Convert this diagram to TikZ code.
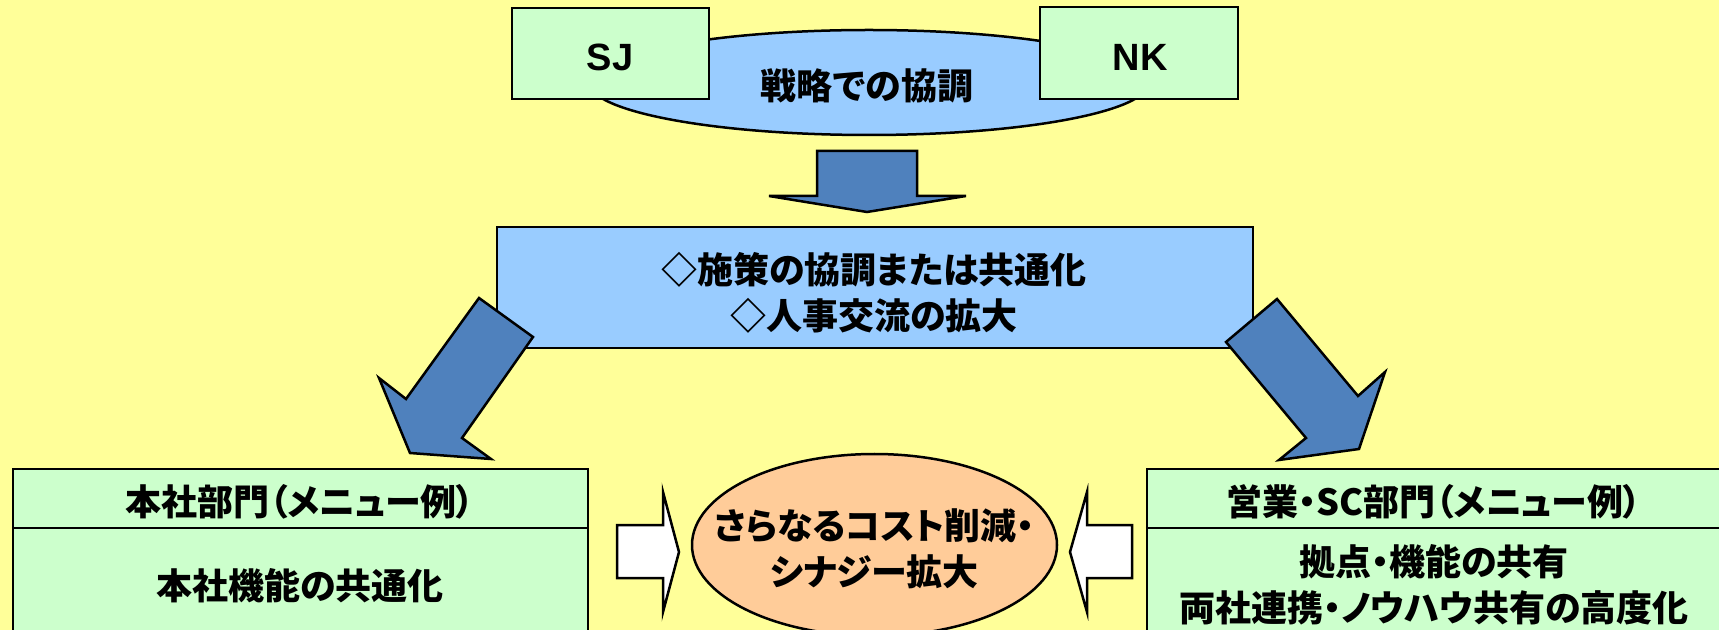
\documentclass[tikz,border=0pt]{standalone}
\usepackage{fontspec}
\setmainfont{Liberation Sans}
\newfontfamily\jp{Noto Sans CJK JP}[RawFeature=+palt]
\usetikzlibrary{shapes.geometric}
\definecolor{bgyellow}{HTML}{FFFF99}
\definecolor{boxgreen}{HTML}{CCFFCC}
\definecolor{boxblue}{HTML}{99CCFF}
\definecolor{arrowblue}{HTML}{4F81BD}
\definecolor{peach}{HTML}{FFCC99}
\begin{document}
\begin{tikzpicture}[x=0.5pt,y=-0.5pt,
  outline/.style={draw=black, line width=1.25pt, line join=miter},
  greenbox/.style={outline, fill=boxgreen, rectangle, inner sep=0pt},
  bluebox/.style={outline, fill=boxblue, rectangle, inner sep=0pt},
  blockarrow/.style={outline, fill=arrowblue},
  whitearrow/.style={outline, fill=white},
  jptext/.style={font=\jp\bfseries\fontsize{18}{23}\selectfont, align=center, inner sep=0pt},
  lattext/.style={font=\bfseries\fontsize{19}{22}\selectfont, inner sep=0pt}]
\useasboundingbox (0,0) rectangle (1719,630);
\clip (0,0) rectangle (1719,630);
\fill[bgyellow] (0,0) rectangle (1719,630);

% top: strategy ellipse with the two companies
\node[ellipse, outline, fill=boxblue, minimum width=280pt, minimum height=52.5pt, inner sep=0pt] (strat) at (869,82.5) {};
\node[jptext] (strattext) at (867,86) {戦略での協調};
\node[greenbox, minimum width=98.5pt, minimum height=45.5pt] (sj) at (610.5,53.5) {};
\node[lattext] (sjtext) at (610,57) {SJ};
\node[greenbox, minimum width=99pt, minimum height=46pt] (nk) at (1139,53) {};
\node[lattext] (nktext) at (1140,57) {NK};

% down arrow
\draw[blockarrow] (817,151) -- (917,151) -- (917,196) -- (966,196) -- (867,212) -- (769,196) -- (817,196) -- cycle;

% measures box
\node[bluebox, minimum width=378pt, minimum height=60.5pt] (measures) at (875,287.5) {};
\node[jptext] (measurestext) at (874,293) {◇施策の協調または共通化\\◇人事交流の拡大};

% diagonal arrows
\draw[blockarrow] (479,298) -- (533,337) -- (462,438) -- (491,459) -- (410,453) -- (379,378) -- (406,399) -- cycle;
\draw[blockarrow] (1277,299) -- (1358,396) -- (1385,372) -- (1359,449) -- (1279,460) -- (1306,438) -- (1226,342) -- cycle;

% bottom left box
\node[greenbox, minimum width=287.5pt, minimum height=115.5pt] (hq) at (300.5,584.5) {};
\draw[outline] ([yshift=-30pt]hq.north west) -- ([yshift=-30pt]hq.north east);
\node[jptext] (hqhead) at (300,502) {本社部門（メニュー例）};
\node[jptext] (hqbody) at (300,586) {本社機能の共通化};

% bottom right box
\node[greenbox, minimum width=287.5pt, minimum height=115.5pt] (sales) at (1434.5,584.5) {};
\draw[outline] ([yshift=-30pt]sales.north west) -- ([yshift=-30pt]sales.north east);
\node[jptext] (saleshead) at (1434,502) {営業・SC部門（メニュー例）};
\node[jptext] (salesbody) at (1434,585) {拠点・機能の共有\\両社連携・ノウハウ共有の高度化};

% center result
\node[ellipse, outline, fill=peach, minimum width=182.5pt, minimum height=91pt, inner sep=0pt] (result) at (874.5,545) {};
\node[jptext] (resulttext) at (874.5,549) {さらなるコスト削減・\\シナジー拡大};

% white arrows
\draw[whitearrow] (617,525) -- (663,525) -- (663,492) -- (679,552) -- (663,612) -- (663,578) -- (617,578) -- cycle;
\draw[whitearrow] (1132,525) -- (1087,525) -- (1087,492) -- (1070,552) -- (1087,612) -- (1087,578) -- (1132,578) -- cycle;
\end{tikzpicture}
\end{document}
